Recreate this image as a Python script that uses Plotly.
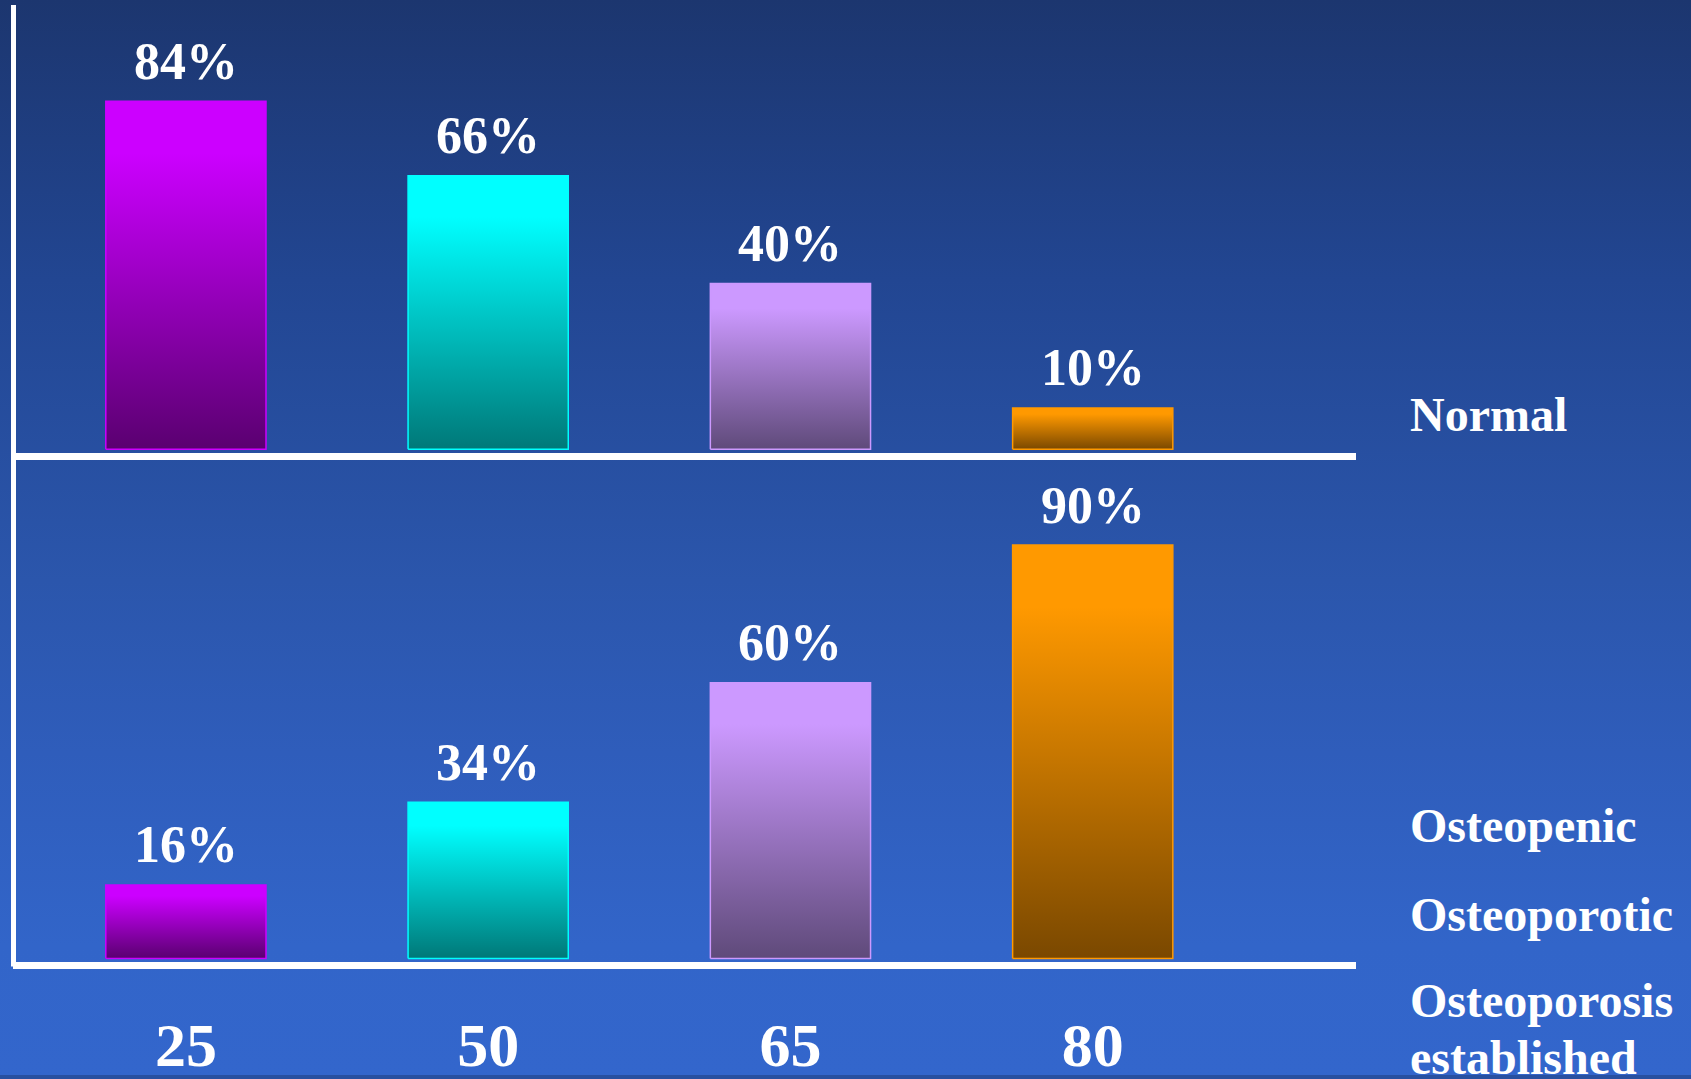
import base64
import plotly.graph_objects as go

# ---------------- data ----------------
ages = ["25", "50", "65", "80"]
normal_pct = [84, 66, 40, 10]
osteo_pct = [16, 34, 60, 90]
status_labels = ["Normal", "Osteopenic", "Osteoporotic", "Osteoporosis", "established"]

bright_colors = ["#cc00ff", "#00ffff", "#cc99ff", "#ff9900"]
dark_colors = ["#5a0070", "#007878", "#5f4a7a", "#7a4800"]

# ---------------- geometry helpers ----------------
W, H = 1691, 1079


def fy(px):
    return 1 - px / H


FONT = "Liberation Serif"
BAR_W = 0.53

fig = go.Figure()

# background gradient (svg image)
svg = (
    f'<svg xmlns="http://www.w3.org/2000/svg" width="{W}" height="{H}" preserveAspectRatio="none">'
    '<defs><linearGradient id="g" x1="0" y1="0" x2="0" y2="1">'
    '<stop offset="0" stop-color="#1c366f"/>'
    '<stop offset="0.26" stop-color="#224692"/>'
    '<stop offset="0.54" stop-color="#2b56ac"/>'
    '<stop offset="0.7" stop-color="#2f5dbb"/>'
    '<stop offset="0.88" stop-color="#3265c9"/>'
    '<stop offset="1" stop-color="#3366cc"/>'
    '</linearGradient></defs>'
    f'<rect width="{W}" height="{H}" fill="url(#g)"/></svg>'
)
bg_src = "data:image/svg+xml;base64," + base64.b64encode(svg.encode()).decode()


def add_bars(values, xa, ya):
    for i, v in enumerate(values):
        x0, x1 = i - BAR_W / 2, i + BAR_W / 2
        fig.add_trace(go.Scatter(
            x=[x0, x1, x1, x0, x0], y=[0, 0, v, v, 0],
            mode="lines", fill="toself",
            line=dict(color=bright_colors[i], width=1.5),
            fillgradient=dict(type="vertical",
                              colorscale=[[0, dark_colors[i]], [0.85, bright_colors[i]], [1, bright_colors[i]]]),
            xaxis=xa, yaxis=ya, hoverinfo="skip", showlegend=False,
        ))


add_bars(normal_pct, "x", "y")
add_bars(osteo_pct, "x2", "y2")

annotations = []
for i, v in enumerate(normal_pct):
    annotations.append(dict(x=i, y=v, xref="x", yref="y", text=f"{v}%", showarrow=False,
                            yanchor="middle", yshift=40,
                            font=dict(family=FONT, size=52, color="white", weight="bold")))
for i, v in enumerate(osteo_pct):
    annotations.append(dict(x=i, y=v, xref="x2", yref="y2", text=f"{v}%", showarrow=False,
                            yanchor="middle", yshift=40,
                            font=dict(family=FONT, size=52, color="white", weight="bold")))

label_y_px = [416, 829, 918, 1004, 1061]
for t, py in zip(status_labels, label_y_px):
    annotations.append(dict(x=1408 / W, y=fy(py), xref="paper", yref="paper", text=t,
                            showarrow=False, xanchor="left", yanchor="middle",
                            font=dict(family=FONT, size=48, color="white", weight="bold")))

x_domain = [13 / W, 1356 / W]
x_range = [-0.572, 3.871]
LINE_W = 7

upper_scale = 4.16
lower_scale = 4.61
up_bottom, up_top = 454.5, 5
lo_bottom, lo_top = 966, 462
up_min = -3.5 / upper_scale
lo_min = -4.0 / lower_scale

axis_common = dict(showgrid=False, zeroline=False, fixedrange=True)

fig.update_layout(
    width=W, height=H,
    margin=dict(l=0, r=0, t=0, b=0),
    paper_bgcolor="#2850a0",
    plot_bgcolor="rgba(0,0,0,0)",
    showlegend=False,
    images=[dict(source=bg_src, xref="paper", yref="paper", x=0, y=1, sizex=1, sizey=1,
                 xanchor="left", yanchor="top", sizing="stretch", layer="below")],
    xaxis=dict(domain=x_domain, range=x_range, anchor="y", showline=True, linecolor="white",
               linewidth=LINE_W, showticklabels=False, ticks="", **axis_common),
    xaxis2=dict(domain=x_domain, range=x_range, anchor="y2", showline=True, linecolor="white",
                linewidth=LINE_W, tickmode="array", tickvals=list(range(len(ages))), ticktext=ages,
                ticks="", ticklabelstandoff=22,
                tickfont=dict(family=FONT, size=62, color="white", weight="bold"), **axis_common),
    yaxis=dict(domain=[fy(up_bottom), fy(up_top)],
               range=[up_min, up_min + (up_bottom - up_top) / upper_scale],
               anchor="x", visible=False, **axis_common),
    yaxis2=dict(domain=[fy(lo_bottom), fy(lo_top)],
                range=[lo_min, lo_min + (lo_bottom - lo_top) / lower_scale],
                anchor="x2", visible=False, **axis_common),
    shapes=[dict(type="line", xref="paper", yref="paper", x0=13.5 / W, x1=13.5 / W,
                 y0=fy(970), y1=fy(5), line=dict(color="white", width=5))],
    annotations=annotations,
)

fig.write_html("out.html")
